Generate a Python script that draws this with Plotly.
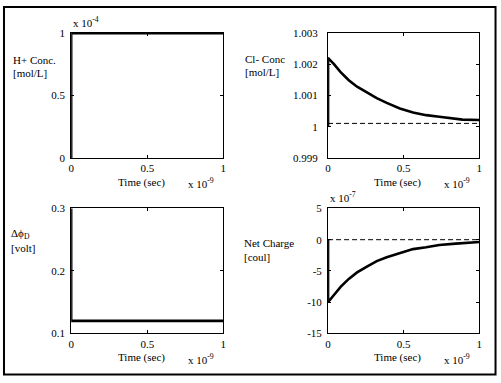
import plotly.graph_objects as go

W, H = 501, 383
FONT = "Liberation Serif"

# ---------------- data ----------------
# time in units of 1e-9 s
t_h = [0, 0.0, 1]
h_conc = [0, 1, 1]            # x 1e-4 mol/L

t_cl = [0, 0.0, 0.004, 0.039, 0.083, 0.137, 0.192, 0.257, 0.322, 0.388,
        0.475, 0.562, 0.649, 0.736, 0.845, 0.889, 1.0]
cl_conc = [1.0000, 1.002215, 1.002185, 1.002008, 1.00175, 1.00149, 1.001285,
           1.0011, 1.00092, 1.000767, 1.00059, 1.000457, 1.000374, 1.000323,
           1.00026, 1.00023, 1.00022]
cl_ref = 1.00011

t_phi = [0, 0.0, 1]
dphi = [0.35, 0.12, 0.12]     # volt

t_q = [0, 0.0, 0.004, 0.039, 0.083, 0.137, 0.192, 0.257, 0.322, 0.388,
       0.475, 0.562, 0.649, 0.736, 0.845, 0.915, 1.0]
net_q = [0, -10.0, -9.88, -8.85, -7.56, -6.27, -5.23, -4.30, -3.42, -2.80,
         -2.13, -1.51, -1.20, -0.84, -0.63, -0.53, -0.38]   # x 1e-7 coul
q_ref = 0

x_ticks = [0, 0.5, 1]
x_ticktext = ["0", "0.5", "1"]
h_ticks = [0, 0.5, 1]
h_ticktext = ["0", "0.5", "1"]
cl_ticks = [0.999, 1.000, 1.001, 1.002, 1.003]
cl_ticktext = ["0.999", "1", "1.001", "1.002", "1.003"]
phi_ticks = [0.1, 0.2, 0.3]
phi_ticktext = ["0.1", "0.2", "0.3"]
q_ticks = [-15, -10, -5, 0, 5]
q_ticktext = ["-15", "-10", "-5", "0", "5"]

# ---------------- layout helpers ----------------
def px_x(p):
    return p / W

def px_y(p):
    return 1 - p / H

# plot rectangles in pixels (left, right, top, bottom)
boxes = {
    1: (69, 223, 28, 157),
    2: (329, 482, 28, 157),
    3: (69, 223, 209, 338),
    4: (329, 482, 209, 338),
}

fig = go.Figure()

LW = 2.6

def add_line(i, x, y, dash=None, width=LW):
    fig.add_trace(go.Scatter(
        x=x, y=y, mode="lines", xaxis=f"x{i}", yaxis=f"y{i}",
        line=dict(color="black", width=width, dash=dash),
        showlegend=False, hoverinfo="skip"))

add_line(1, t_h, h_conc)
add_line(2, [0, 1], [cl_ref, cl_ref], dash="5px,3px", width=1)
add_line(2, t_cl, cl_conc)
add_line(3, t_phi, dphi)
add_line(4, [0, 1], [q_ref, q_ref], dash="5px,3px", width=1)
add_line(4, t_q, net_q)

axis_common = dict(
    showline=True, linecolor="black", linewidth=1, mirror="ticks",
    ticks="inside", ticklen=3, tickcolor="black", tickwidth=1,
    showgrid=False, zeroline=False,
    tickfont=dict(family=FONT, size=11, color="black"),
)

yinfo = {
    1: ([0, 1], h_ticks, h_ticktext, 3),
    2: ([0.999, 1.003], cl_ticks, cl_ticktext, 7),
    3: ([0.1, 0.3], phi_ticks, phi_ticktext, 3),
    4: ([-15, 5], q_ticks, q_ticktext, 3),
}

lay = {}
for i, (l, r, t, b) in boxes.items():
    xs = "" if i == 1 else str(i)
    yr, yt, ytt, so = yinfo[i]
    lay[f"xaxis{xs}"] = dict(axis_common, domain=[px_x(l), px_x(r)],
                              range=[0, 1], tickvals=x_ticks,
                              ticktext=x_ticktext, anchor=f"y{i}")
    lay[f"yaxis{xs}"] = dict(axis_common, domain=[px_y(b), px_y(t)],
                              range=yr, tickvals=yt, ticktext=ytt,
                              anchor=f"x{i}", ticklabelstandoff=so)

fig.update_layout(
    width=W, height=H, margin=dict(l=0, r=0, t=0, b=0),
    paper_bgcolor="white", plot_bgcolor="white",
    font=dict(family=FONT, size=11, color="black"),
    **lay,
)

annots = []

def ann(text, x, y, xanchor="left", yanchor="middle", size=11):
    annots.append(dict(text=text, x=px_x(x), y=px_y(y), xref="paper",
                       yref="paper", xanchor=xanchor, yanchor=yanchor,
                       showarrow=False, align="left",
                       font=dict(family=FONT, size=size, color="black")))

# axis titles
for (l, r, t, b) in boxes.values():
    ann("Time (sec)", (l + r) / 2 - 6, b + 25, xanchor="center")
    ann("x 10<sup>-9</sup>", r - 38, b + 26)

ann("x 10<sup>-4</sup>", 69, 17)
ann("x 10<sup>-7</sup>", 329, 197)

ann("H+ Conc.", 8, 56)
ann("[mol/L]", 8, 69)
ann("Cl- Conc", 243, 55)
ann("[mol/L]", 243, 68)
ann("Δϕ<sub>D</sub>", 6, 235)
ann("[volt]", 6, 250)
ann("Net Charge", 242, 245)
ann("[coul]", 242, 259)

fig.update_layout(annotations=annots)

# outer frame
fig.add_shape(type="rect", xref="paper", yref="paper",
              x0=px_x(1), x1=px_x(498.5), y0=px_y(380.5), y1=px_y(1),
              line=dict(color="black", width=2))

fig.write_html("out.html",
               config={"displayModeBar": False},
               post_script="document.body.style.margin='0';"
                           "document.body.style.overflow='hidden';")
